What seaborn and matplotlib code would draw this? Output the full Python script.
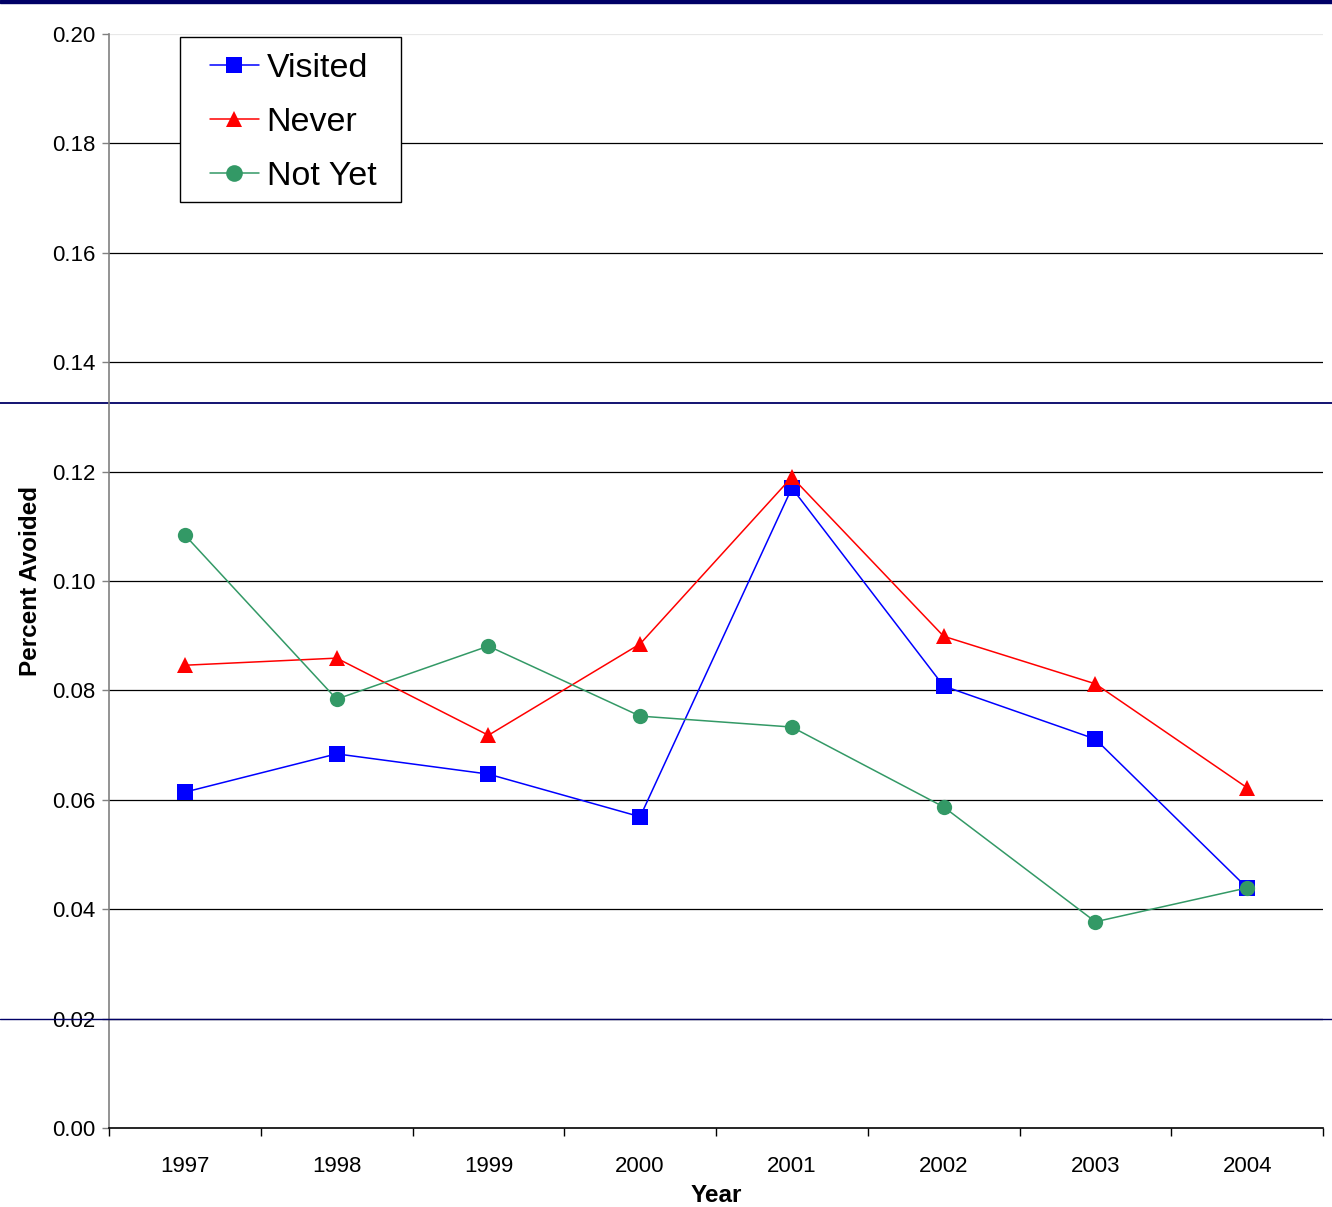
import numpy as np
import pandas as pd
import matplotlib
matplotlib.use("Agg")
import matplotlib.pyplot as plt
from matplotlib.lines import Line2D
from matplotlib.patches import Rectangle
import seaborn as sns

years = ["1997", "1998", "1999", "2000", "2001", "2002", "2003", "2004"]
visited = [0.0614, 0.0684, 0.0647, 0.0569, 0.1170, 0.0808, 0.0711, 0.0439]
never = [0.0846, 0.0859, 0.0718, 0.0885, 0.1190, 0.0899, 0.0812, 0.0622]
not_yet = [0.1084, 0.0784, 0.0881, 0.0753, 0.0733, 0.0587, 0.0377, 0.0439]
groups = ["Visited", "Never", "Not Yet"]

df = pd.DataFrame({
    "Year": years * 3,
    "value": visited + never + not_yet,
    "group": [g for g in groups for _ in years],
})

sns.set_style("white")
plt.rcParams["font.family"] = ["Liberation Sans", "DejaVu Sans"]
plt.rcParams.update({"text.color": "black", "axes.labelcolor": "black",
                     "xtick.color": "black", "ytick.color": "black"})

W, H = 1332, 1207
fig = plt.figure(figsize=(W / 100, H / 100), dpi=100)
ax = fig.add_axes([109 / W, 79 / H, 1214 / W, 1094 / H])
ax.patch.set_visible(False)

palette = {"Visited": "#0000FF", "Never": "#FF0000", "Not Yet": "#339966"}
markers = {"Visited": "s", "Never": "^", "Not Yet": "o"}
sns.lineplot(data=df, x="Year", y="value", hue="group", style="group",
             palette=palette, markers=markers, dashes=False, sort=False,
             linewidth=1.1, markersize=11, markeredgewidth=0, ax=ax, zorder=3)

ax.set_ylim(0, 0.20)
ax.set_xlim(-0.5, len(years) - 0.5)
yt = np.arange(0, 0.201, 0.02)
ax.set_yticks(yt)
ax.set_yticklabels([f"{v:.2f}" for v in yt], fontsize=16)
for v in yt[1:-1]:
    ax.axhline(v, color="black", linewidth=0.9, zorder=1)
ax.axhline(0.20, color="#e8e8e8", linewidth=0.9, zorder=1)

ax.set_xticks(range(len(years)))
ax.set_xticklabels(years, fontsize=16)
ax.set_xticks(np.arange(-0.5, len(years)), minor=True)
ax.tick_params(axis="x", which="major", length=0, pad=20)
ax.tick_params(axis="x", which="minor", bottom=True, length=6, width=1,
               color="black", direction="out")
ax.tick_params(axis="y", which="major", length=5, width=1, color="#808080",
               labelcolor="black", direction="out", left=True, pad=5)

for s in ["top", "right"]:
    ax.spines[s].set_visible(False)
ax.spines["left"].set_color("#808080")
ax.spines["left"].set_linewidth(1.2)
ax.spines["bottom"].set_color("black")
ax.spines["bottom"].set_linewidth(1.2)

ax.set_xlabel("Year", fontsize=17.5, fontweight="bold", labelpad=5)
ax.set_ylabel("Percent Avoided", fontsize=17.5, fontweight="bold", labelpad=7)

# legend frame drawn as a box, entries without the default frame
ax.add_patch(Rectangle((180 / W, 1 - 202 / H), 221 / W, 165 / H,
                       transform=fig.transFigure, facecolor="white",
                       edgecolor="black", linewidth=1.0, zorder=4, clip_on=False))
handles, labels = ax.get_legend_handles_labels()
for h in handles:
    h.set_markersize(12)
leg = ax.legend(handles, labels, loc="upper left",
                bbox_to_anchor=(203 / W, 1 - 46 / H), bbox_transform=fig.transFigure,
                fontsize=24.5, frameon=False, handlelength=1.45, handletextpad=0.22,
                borderpad=0.2, labelspacing=0.68, borderaxespad=0)
leg.set_zorder(5)

# slide decoration lines
fig.add_artist(Rectangle((0, 1 - 3 / H), 1, 3 / H, transform=fig.transFigure,
                         color="#000066", zorder=-1))
fig.add_artist(Line2D([0, 1], [1 - 403 / H] * 2, transform=fig.transFigure,
                      color="#000066", linewidth=1.3, zorder=-1))
fig.add_artist(Line2D([0, 1], [1 - 1019 / H] * 2, transform=fig.transFigure,
                      color="#000066", linewidth=1.0, zorder=10))

fig.savefig("out.png", dpi=100)
